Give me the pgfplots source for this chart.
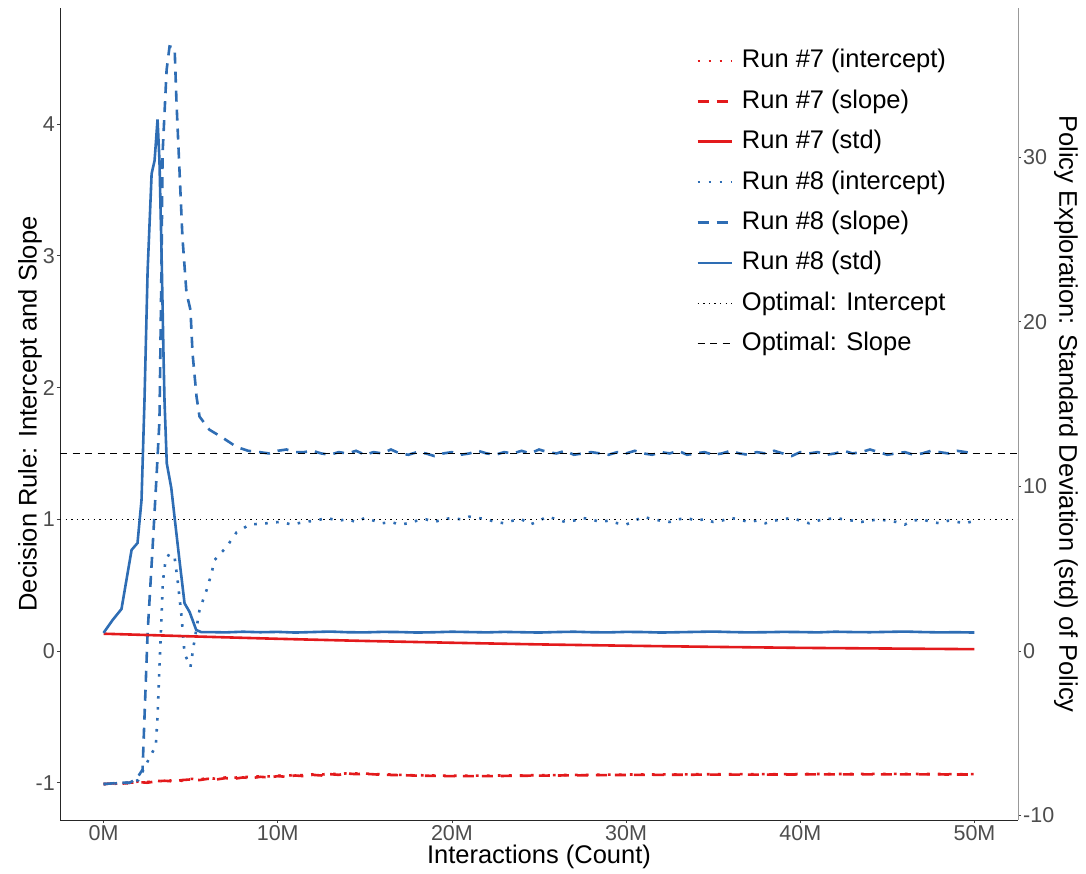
\documentclass[border=0pt]{standalone}
\usepackage{pgfplots}
\pgfplotsset{compat=1.18}
\usepackage{fontspec}
\setmainfont{Liberation Sans}
\definecolor{runred}{RGB}{227,26,28}
\definecolor{runblue}{RGB}{46,109,180}
\definecolor{ticktext}{RGB}{77,77,77}

\pgfplotsset{
  myaxis/.style={
    at={(0pt,0pt)}, anchor=south west, scale only axis,
    width=958pt, height=812pt,
    xmin=-2.5, xmax=52.5,
    tick align=outside, major tick length=3pt,
    tick style={color=black!75, line width=0.8pt},
    ticklabel style={font=\fontsize{21.5}{26}\selectfont, text=ticktext},
    label style={font=\fontsize{25.5}{30}\selectfont},
  },
  reddot/.style={runred, line width=2.6pt, line cap=butt, dash pattern=on 2.6pt off 8.4pt},
  reddash/.style={runred, line width=2.6pt, line cap=butt, dash pattern=on 11pt off 8pt},
  redsolid/.style={runred, line width=2.6pt, solid},
  bluedot/.style={runblue, line width=2.6pt, line cap=butt, dash pattern=on 2.6pt off 8.4pt},
  bluedash/.style={runblue, line width=2.6pt, line cap=butt, dash pattern=on 11pt off 8pt},
  bluesolid/.style={runblue, line width=2.6pt, solid},
  optdot/.style={black, line width=1.4pt, line cap=butt, dash pattern=on 1.4pt off 4.2pt},
  optdash/.style={black, line width=1.4pt, line cap=butt, dash pattern=on 7pt off 5.5pt},
}

\pgfplotstableread{
x y
0 -1.01
0.5 -1.005
1 -1.008
1.5 -1.0
2 -0.995
2.5 -1.0
3 -0.99
3.5 -0.985
4 -0.99
4.5 -0.98
5 -0.975
5.5 -0.98
6 -0.97
6.5 -0.975
7 -0.965
7.5 -0.97
8 -0.96
8.5 -0.965
9 -0.955
9.5 -0.96
10 -0.95
10.5 -0.955
11 -0.945
11.5 -0.95
12 -0.94
12.5 -0.945
13 -0.935
13.5 -0.94
14 -0.93
14.5 -0.935
15 -0.932
16 -0.94
17 -0.942
18 -0.946
20 -0.95
22 -0.95
24 -0.947
26 -0.945
28 -0.943
30 -0.941
32 -0.94
34 -0.939
36 -0.938
38 -0.938
40 -0.937
42 -0.937
44 -0.936
46 -0.936
48 -0.937
50 -0.938
}\redslope

\pgfplotstableread{
x y
0 -1.01
0.5 -1.012
1 -1.0
1.5 -1.005
2 -0.99
2.5 -0.995
3 -0.985
3.5 -0.99
4 -0.98
4.5 -0.985
5 -0.97
5.5 -0.975
6 -0.965
6.5 -0.97
7 -0.96
7.5 -0.962
8 -0.955
8.5 -0.958
9 -0.95
9.5 -0.952
10 -0.945
10.5 -0.948
11 -0.94
11.5 -0.943
12 -0.936
12.5 -0.938
13 -0.932
13.5 -0.935
14 -0.928
14.5 -0.93
15 -0.93
16 -0.936
17 -0.94
18 -0.943
20 -0.947
22 -0.946
24 -0.944
26 -0.942
28 -0.94
30 -0.938
32 -0.937
34 -0.936
36 -0.935
38 -0.935
40 -0.934
42 -0.934
44 -0.933
46 -0.933
48 -0.934
50 -0.935
}\redintercept

\pgfplotstableread{
x y
0 1.05
5 0.89
10 0.74
15 0.61
20 0.50
25 0.40
30 0.32
35 0.25
40 0.19
45 0.15
50 0.11
}\redstd

\pgfplotstableread{
x y
0 -1.01
0.5 -1.005
1.0 -1.0
1.5 -1.0
1.9 -0.97
2.24 -0.90
2.53 0.14
2.81 0.77
3.04 1.32
3.21 1.75
3.33 2.97
3.39 3.78
3.62 4.41
3.79 4.59
4.08 4.58
4.19 4.16
4.36 3.65
4.53 3.14
4.76 2.72
4.99 2.59
5.11 2.26
5.34 1.93
5.51 1.78
6.08 1.68
6.83 1.62
7.63 1.55
8.3 1.52
8.96 1.51
9.5 1.50
10 1.52
10.5 1.53
11 1.51
11.5 1.51
12 1.52
12.5 1.50
13 1.49
13.5 1.51
14 1.50
14.5 1.52
15 1.49
15.5 1.51
16 1.50
16.5 1.53
17 1.50
17.5 1.49
18 1.51
18.5 1.50
19 1.48
19.5 1.50
20 1.51
20.5 1.49
21 1.50
21.5 1.52
22 1.50
22.5 1.49
23 1.51
23.5 1.50
24 1.52
24.5 1.50
25 1.53
25.5 1.51
26 1.50
26.5 1.52
27 1.49
27.5 1.50
28 1.51
28.5 1.50
29 1.49
29.5 1.51
30 1.50
30.5 1.52
31 1.50
31.5 1.49
32 1.51
32.5 1.50
33 1.52
33.5 1.49
34 1.50
34.5 1.51
35 1.49
35.5 1.50
36 1.52
36.5 1.50
37 1.49
37.5 1.51
38 1.50
38.5 1.52
39 1.50
39.5 1.48
40 1.51
40.5 1.50
41 1.51
41.5 1.49
42 1.50
42.5 1.52
43 1.50
43.5 1.51
44 1.53
44.5 1.51
45 1.49
45.5 1.50
46 1.51
46.5 1.49
47 1.50
47.5 1.52
48 1.51
48.5 1.50
49 1.52
49.5 1.51
50 1.50
}\blueslope

\pgfplotstableread{
x y
0 -1.01
0.5 -1.008
1.0 -1.0
1.5 -1.0
2.0 -0.98
2.6 -0.82
3.0 -0.72
3.1 -0.50
3.21 -0.12
3.33 0.26
3.4 0.52
3.56 0.69
3.79 0.74
4.08 0.71
4.25 0.54
4.48 0.26
4.65 -0.02
4.99 -0.12
5.22 0.08
5.51 0.31
5.91 0.46
6.2 0.59
6.37 0.69
7.06 0.79
7.63 0.90
8.38 0.96
9.36 0.97
10.1 0.98
10.85 0.96
11.5 0.98
12.2 0.99
12.8 1.01
13.5 0.99
14 1.00
14.5 0.98
15 1.01
15.5 0.99
16 0.97
16.5 0.98
17 0.96
17.5 0.97
18 0.99
18.5 1.00
19 0.98
19.5 1.00
20 1.01
20.5 1.00
21 1.02
21.5 1.01
22 1.00
22.5 0.98
23 0.97
23.5 0.99
24 1.00
24.5 0.96
25 0.99
25.5 1.02
26 1.00
26.5 0.98
27 0.99
27.5 1.01
28 1.00
28.5 0.98
29 0.99
29.5 0.97
30 0.96
30.5 0.99
31 1.02
31.5 1.00
32 0.99
32.5 0.98
33 1.00
33.5 1.01
34 0.99
34.5 1.00
35 0.98
35.5 0.99
36 1.01
36.5 1.00
37 0.98
37.5 0.99
38 0.97
38.5 0.99
39 1.00
39.5 1.01
40 0.99
40.5 0.97
41 0.99
41.5 1.00
42 1.01
42.5 1.00
43 0.99
43.5 0.98
44 0.99
44.5 1.00
45 0.99
45.5 0.98
46 0.96
46.5 0.99
47 1.00
47.5 0.98
48 0.97
48.5 0.99
49 0.98
49.5 0.97
50 0.99
}\blueintercept

\pgfplotstableread{
x y
0 1.10
0.52 1.88
1.03 2.55
1.61 6.14
1.95 6.56
2.18 9.17
2.35 15.2
2.53 23.1
2.76 29.0
2.93 29.8
3.10 32.3
3.21 29.8
3.33 24.2
3.44 18.1
3.50 15.2
3.63 11.4
3.89 9.9
4.08 8.1
4.36 5.5
4.65 2.9
4.94 2.37
5.32 1.28
5.6 1.15
6 1.15
7 1.13
8 1.17
9 1.14
10 1.16
11 1.12
12 1.15
13 1.18
14 1.14
15 1.13
16 1.16
17 1.15
18 1.12
19 1.14
20 1.17
21 1.15
22 1.13
23 1.16
24 1.14
25 1.12
26 1.15
27 1.17
28 1.14
29 1.13
30 1.16
31 1.15
32 1.12
33 1.14
34 1.16
35 1.18
36 1.15
37 1.13
38 1.14
39 1.16
40 1.15
41 1.13
42 1.17
43 1.15
44 1.14
45 1.16
46 1.18
47 1.15
48 1.13
49 1.14
50 1.12
}\bluestd

\begin{document}
\begin{tikzpicture}
\useasboundingbox (-60pt,-53pt) rectangle (1026pt,820pt);

\begin{axis}[myaxis,
  ymin=-1.283, ymax=4.882,
  axis x line*=bottom, axis y line*=left,
  x axis line style={-, line width=0.9pt, color=black!85},
  y axis line style={-, line width=0.9pt, color=black!85},
  xtick={0,10,20,30,40,50}, xticklabels={0M,10M,20M,30M,40M,50M},
  ytick={-1,0,1,2,3,4}, yticklabels={-1,0,1,2,3,4},
  xlabel={Interactions (Count)},
  ylabel={Decision Rule: Intercept and Slope},
  xlabel style={at={(axis description cs:0.5,0)}, anchor=center, yshift=-37pt},
  ylabel style={at={(axis description cs:0,0.5)}, anchor=center, yshift=30pt},
  yticklabel style={inner sep=2pt},
  xticklabel style={inner sep=2pt},
]
\addplot[reddot] table {\redintercept};
\addplot[reddash] table {\redslope};
\addplot[bluedot] table {\blueintercept};
\addplot[bluedash] table {\blueslope};
\addplot[optdot] coordinates {(-2.5,1) (52.5,1)};
\addplot[optdash] coordinates {(-2.5,1.5) (52.5,1.5)};
\end{axis}

\begin{axis}[myaxis,
  ymin=-10.27, ymax=39.07,
  axis x line=none, axis y line*=right,
  xtick=\empty,
  y axis line style={-, line width=0.9pt, color=black!40},
  ytick={-10,0,10,20,30}, yticklabels={-10,0,10,20,30},
  yticklabel style={inner sep=2pt},
  ylabel={Policy Exploration: Standard Deviation (std) of Policy},
  ylabel style={at={(axis description cs:1,0.5)}, anchor=center, rotate=180, yshift=48pt},
  legend style={at={(axis description cs:0.664,0.951)}, anchor=north west,
    draw=none, fill=none, inner sep=0pt, row sep=14.4pt,
    font=\fontsize{25.5}{30}\selectfont,
    nodes={inner sep=0pt, text height=20pt, text depth=6pt},
    /tikz/every odd column/.append style={column sep=9pt}},
  legend cell align=left,
  legend image code/.code={\draw[#1] (0pt,0pt) -- (34pt,0pt);},
]
\addlegendimage{reddot}
\addlegendentry{Run \#7 (intercept)}
\addlegendimage{reddash}
\addlegendentry{Run \#7 (slope)}
\addlegendimage{redsolid}
\addlegendentry{Run \#7 (std)}
\addlegendimage{bluedot}
\addlegendentry{Run \#8 (intercept)}
\addlegendimage{bluedash}
\addlegendentry{Run \#8 (slope)}
\addlegendimage{bluesolid}
\addlegendentry{Run \#8 (std)}
\addlegendimage{optdot}
\addlegendentry{Optimal: Intercept}
\addlegendimage{optdash}
\addlegendentry{Optimal: Slope}
\addplot[redsolid, forget plot] table {\redstd};
\addplot[bluesolid, forget plot] table {\bluestd};
\end{axis}
\end{tikzpicture}
\end{document}
